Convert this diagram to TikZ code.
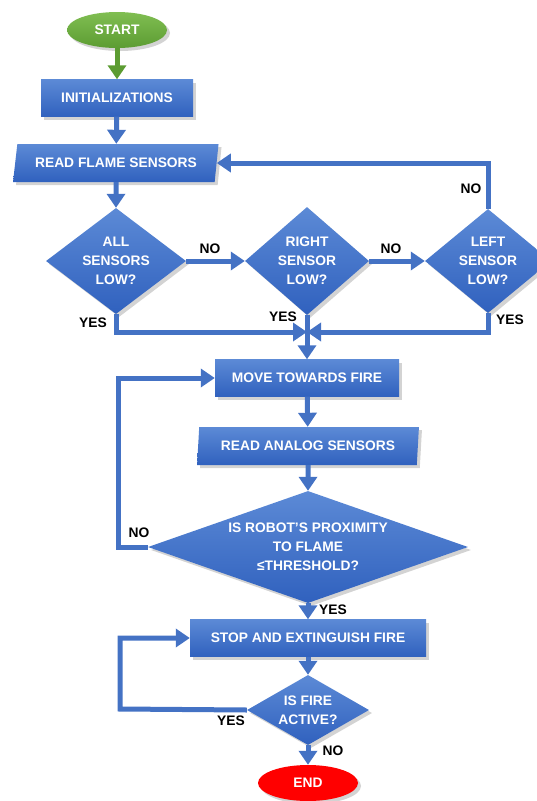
\documentclass[tikz,border=0pt]{standalone}
\usepackage{fontspec}
\setmainfont{Liberation Sans}
\usetikzlibrary{arrows.meta,shapes.geometric,shadows}
\definecolor{flowblue}{RGB}{68,114,196}
\definecolor{boxtop}{RGB}{92,138,214}
\definecolor{boxbot}{RGB}{48,97,190}
\definecolor{starttop}{RGB}{128,190,82}
\definecolor{startbot}{RGB}{92,156,50}

\begin{document}
\begin{tikzpicture}[x=1pt, y=1pt,
	every node/.style={font=\bfseries\fontsize{13.8}{19}\selectfont},
	shape box/.style={top color=boxtop, bottom color=boxbot, draw=none, text=white, align=center,
		inner sep=0pt, drop shadow={opacity=0.35, shadow xshift=3pt, shadow yshift=-3pt}},
	procbox/.style={shape box, rectangle, minimum height=37},
	iobox/.style={shape box, trapezium, trapezium left angle=70, trapezium right angle=108,
		trapezium stretches=true, minimum height=38},
	decision/.style={shape box, diamond},
	termgreen/.style={ellipse, top color=starttop, bottom color=startbot, text=white,
		minimum width=100, minimum height=36, inner sep=0pt,
		drop shadow={opacity=0.35, shadow xshift=3pt, shadow yshift=-3pt}},
	termred/.style={ellipse, fill=red, text=white, minimum width=100, minimum height=36, inner sep=0pt,
		drop shadow={opacity=0.35, shadow xshift=3pt, shadow yshift=-3pt}},
	flow/.style={draw=flowblue, line width=5pt, -{Triangle[width=18pt,length=14pt]}},
	lbl/.style={text=black}]
	%%%%% START %%%%%
	
	\useasboundingbox (0,0) rectangle (537,-801);
	
	\node[termgreen] (start) at (117,-30) {START};
	\node[procbox, minimum width=152] (init) at (117,-98) {INITIALIZATIONS};
	\node[iobox, minimum width=206] (flame) at (116,-163) {READ FLAME SENSORS};
	
	\node[decision, aspect=1.32, minimum width=140, minimum height=106] (all) at (116,-261) {ALL\\SENSORS\\LOW?};
	\node[decision, aspect=1.13, minimum width=124, minimum height=108] (right) at (307,-261) {RIGHT\\SENSOR\\LOW?};
	\node[decision, aspect=1.2, minimum width=126, minimum height=104] (left) at (488,-261) {LEFT\\SENSOR\\LOW?};
	\coordinate (merge) at (307,-332);
	
	\node[procbox, minimum width=184] (move) at (307,-378) {MOVE TOWARDS FIRE};
	\node[iobox, trapezium left angle=80, trapezium right angle=100, minimum width=222] (analog) at (308,-446) {READ ANALOG SENSORS};
	\node[decision, aspect=2.86, minimum width=320, minimum height=112] (prox) at (308,-547)
		{IS ROBOT’S PROXIMITY\\TO FLAME\\≤THRESHOLD?};
	\coordinate (noloop) at (118,-547);
	
	\node[procbox, minimum width=236] (stop) at (308,-638) {STOP AND EXTINGUISH FIRE};
	\node[decision, aspect=1.74, minimum width=122, minimum height=70] (fire) at (308,-710) {IS FIRE\\ACTIVE?};
	\coordinate (yesloop) at (120,-709);
	\node[termred] (end) at (308,-783) {END};
	
	% connectors
	\draw[flow, draw=startbot] (start) -- (init);
	\draw[flow] (init) -- (flame);
	\draw[flow] (flame) -- (all);
	\draw[flow] (all.east) -- (right.west);
	\draw[flow] (right.east) -- (left.west);
	\draw[flow] (left.north) |- (flame.east);
	\draw[flow] (all.south) |- (merge);
	\draw[flow] (left.south) |- (merge);
	\draw[flow] (right.south) -- (move.north);
	\draw[flow] (move) -- (analog);
	\draw[flow] (analog) -- (prox);
	\draw[flow] (prox.west) -- (noloop) |- (move.west);
	\draw[flow] (prox.south) -- (stop.north);
	\draw[flow] (stop) -- (fire);
	\draw[flow] (fire.west) -- (yesloop) |- (stop.west);
	\draw[flow] (fire.south) -- (end.north);
	
	% labels
	\node[lbl] (no1) at (210,-249) {NO};
	\node[lbl] (no2) at (391,-249) {NO};
	\node[lbl] (no3) at (471,-189) {NO};
	\node[lbl] (yes1) at (93,-323) {YES};
	\node[lbl] (yes2) at (283,-317) {YES};
	\node[lbl] (yes3) at (510,-320) {YES};
	\node[lbl] (no4) at (139,-533) {NO};
	\node[lbl] (yes4) at (333,-610) {YES};
	\node[lbl] (yes5) at (231,-721) {YES};
	\node[lbl] (no5) at (333,-751) {NO};
	
	%%%%% END %%%%%
\end{tikzpicture}
\end{document}
